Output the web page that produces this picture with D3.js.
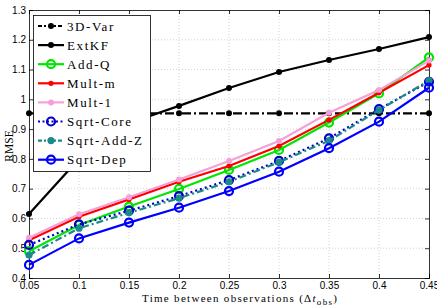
<!DOCTYPE html>
<html>
<head>
<meta charset="utf-8">
<script src="https://cdn.jsdelivr.net/npm/d3@7"></script>
<style>
    body { margin: 0; background: #fff; }
    .tick-label { font-family: "Liberation Sans", Arial, sans-serif; font-size: 10px; }
    .serif { font-family: "Liberation Serif", "Times New Roman", serif; }
</style>
</head>
<body>
<div id="chart"></div>
<script>
// time between observations
const xValues = [0.05, 0.1, 0.15, 0.2, 0.25, 0.3, 0.35, 0.4, 0.45];
const xTicks = [0.05, 0.1, 0.15, 0.2, 0.25, 0.3, 0.35, 0.4, 0.45];
const yTicks = [0.4, 0.5, 0.6, 0.7, 0.8, 0.9, 1, 1.1, 1.2, 1.3];

const seriesNames = ["3D-Var", "ExtKF", "Add-Q", "Mult-m", "Mult-1", "Sqrt-Core", "Sqrt-Add-Z", "Sqrt-Dep"];

// RMSE values per method
const var3d    = [0.953, 0.953, 0.953, 0.953, 0.953, 0.953, 0.953, 0.953, 0.953];
const extKF    = [0.615, 0.800, 0.920, 0.978, 1.038, 1.092, 1.132, 1.169, 1.209];
const addQ     = [0.490, 0.578, 0.640, 0.699, 0.763, 0.830, 0.922, 1.020, 1.141];
const multM    = [0.527, 0.606, 0.664, 0.723, 0.776, 0.843, 0.931, 1.022, 1.115];
const mult1    = [0.535, 0.614, 0.671, 0.731, 0.793, 0.860, 0.955, 1.031, 1.130];
const sqrtCore = [0.511, 0.580, 0.626, 0.675, 0.729, 0.793, 0.869, 0.967, 1.059];
const sqrtAddZ = [0.477, 0.567, 0.619, 0.668, 0.723, 0.789, 0.861, 0.964, 1.063];
const sqrtDep  = [0.444, 0.533, 0.586, 0.636, 0.692, 0.757, 0.836, 0.925, 1.039];

const seriesValues = [var3d, extKF, addQ, multM, mult1, sqrtCore, sqrtAddZ, sqrtDep];

// line / marker styles (matlab-ish)
const styles = [
    {color: "#000000", dash: "9,3,2,3", marker: "dot", r: 3},
    {color: "#000000", dash: null, marker: "dot", r: 3},
    {color: "#00e600", dash: null, marker: "circle", r: 5},
    {color: "#ff0000", dash: null, marker: "dot", r: 2.6},
    {color: "#f5a0d6", dash: null, marker: "dot", r: 3},
    {color: "#0000c8", dash: "2,3", marker: "circle", r: 5},
    {color: "#1a8a8a", dash: "7,3,2,3", marker: "dot", r: 3.6},
    {color: "#0000ff", dash: null, marker: "circle", r: 5}
];

class RmseChart {

    constructor(parentElement) {
        this.parentElement = parentElement;
        this.initVis();
    }

    initVis() {
        let vis = this;

        vis.width = 437;
        vis.height = 308;
        vis.plot = {left: 29, right: 429, top: 10, bottom: 278};

        vis.svg = d3.select("#" + vis.parentElement).append("svg")
            .attr("width", vis.width)
            .attr("height", vis.height);

        vis.x = d3.scaleLinear().domain([0.05, 0.45]).range([vis.plot.left, vis.plot.right]);
        vis.y = d3.scaleLinear().domain([0.4, 1.3]).range([vis.plot.bottom, vis.plot.top]);

        // grid
        vis.svg.append("g").selectAll("line")
            .data(xTicks.slice(1, -1))
            .enter().append("line")
            .attr("x1", d => vis.x(d)).attr("x2", d => vis.x(d))
            .attr("y1", vis.plot.top).attr("y2", vis.plot.bottom)
            .attr("stroke", "#c8c8c8").attr("stroke-width", 0.8)
            .attr("stroke-dasharray", "1,2");

        vis.svg.append("g").selectAll("line")
            .data(yTicks.slice(1, -1))
            .enter().append("line")
            .attr("x1", vis.plot.left).attr("x2", vis.plot.right)
            .attr("y1", d => vis.y(d)).attr("y2", d => vis.y(d))
            .attr("stroke", "#c8c8c8").attr("stroke-width", 0.8)
            .attr("stroke-dasharray", "1,2");

        // axes, ticks pointing inward
        let fmt = d => d3.format("")(d);
        vis.svg.append("g")
            .attr("transform", `translate(0,${vis.plot.bottom})`)
            .call(d3.axisBottom(vis.x).tickValues(xTicks).tickSize(-4).tickPadding(4).tickFormat(fmt));
        vis.svg.append("g")
            .attr("transform", `translate(0,${vis.plot.top})`)
            .call(d3.axisTop(vis.x).tickValues(xTicks).tickSize(-4).tickFormat(""));
        vis.svg.append("g")
            .attr("transform", `translate(${vis.plot.left},0)`)
            .call(d3.axisLeft(vis.y).tickValues(yTicks).tickSize(-4).tickPadding(3).tickFormat(fmt));
        vis.svg.append("g")
            .attr("transform", `translate(${vis.plot.right},0)`)
            .call(d3.axisRight(vis.y).tickValues(yTicks).tickSize(-4).tickFormat(""));

        vis.svg.selectAll(".domain").attr("stroke", "#000").attr("stroke-width", 0.8);
        vis.svg.selectAll(".tick line").attr("stroke", "#000").attr("stroke-width", 0.8);
        vis.svg.selectAll(".tick text")
            .attr("class", "tick-label")
            .attr("fill", "#000")
            .attr("font-size", null)
            .attr("font-family", null);

        // axis titles
        vis.svg.append("text")
            .attr("class", "serif")
            .attr("transform", "rotate(-90)")
            .attr("x", -146)
            .attr("y", 13)
            .attr("text-anchor", "middle")
            .attr("font-size", 11.5)
            .text("RMSE");

        let xt = vis.svg.append("text")
            .attr("class", "serif")
            .attr("x", 142).attr("y", 302)
            .attr("font-size", 11)
            .attr("letter-spacing", 1.3);
        xt.append("tspan").text("Time between observations (Δ");
        xt.append("tspan").attr("font-style", "italic").text("t");
        xt.append("tspan").attr("font-size", 9).attr("dy", 3).text("obs");
        xt.append("tspan").attr("dy", -3).text(")");

        vis.line = d3.line()
            .x((d, i) => vis.x(xValues[i]))
            .y(d => vis.y(d));

        vis.updateVis();
    }

    drawMarker(sel, st, cx, cy) {
        if (st.marker === "dot") {
            sel.append("circle")
                .attr("cx", cx).attr("cy", cy).attr("r", st.r)
                .attr("fill", st.color);
        } else {
            sel.append("circle")
                .attr("cx", cx).attr("cy", cy).attr("r", st.r - 1)
                .attr("fill", "none")
                .attr("stroke", st.color)
                .attr("stroke-width", 2.2);
        }
    }

    updateVis() {
        let vis = this;

        // series, in plotting order
        seriesValues.forEach((vals, k) => {
            let st = styles[k];
            let g = vis.svg.append("g").attr("class", "series");
            g.append("path")
                .datum(vals)
                .attr("d", vis.line)
                .attr("fill", "none")
                .attr("stroke", st.color)
                .attr("stroke-width", 2.2)
                .attr("stroke-dasharray", st.dash);
            vals.forEach((v, i) => vis.drawMarker(g, st, vis.x(xValues[i]), vis.y(v)));
        });

        // legend
        let lg = vis.svg.append("g").attr("class", "legend");
        lg.append("rect")
            .attr("x", 33.5).attr("y", 15.5)
            .attr("width", 117).attr("height", 156)
            .attr("fill", "#fff")
            .attr("stroke", "#000").attr("stroke-width", 0.8);

        seriesNames.forEach((name, k) => {
            let st = styles[k];
            let yy = 26 + k * 19.1;
            lg.append("line")
                .attr("x1", 38).attr("x2", 64)
                .attr("y1", yy).attr("y2", yy)
                .attr("stroke", st.color)
                .attr("stroke-width", 2.2)
                .attr("stroke-dasharray", st.dash ? (k === 5 ? "2,2.5" : "4,2,2,2") : null);
            vis.drawMarker(lg, st, 51, yy);
            lg.append("text")
                .attr("class", "serif")
                .attr("x", 67).attr("y", yy + 4.5)
                .attr("font-size", 13)
                .attr("letter-spacing", 1.6)
                .text(name);
        });
    }
}

let chart = new RmseChart("chart");
</script>
</body>
</html>
